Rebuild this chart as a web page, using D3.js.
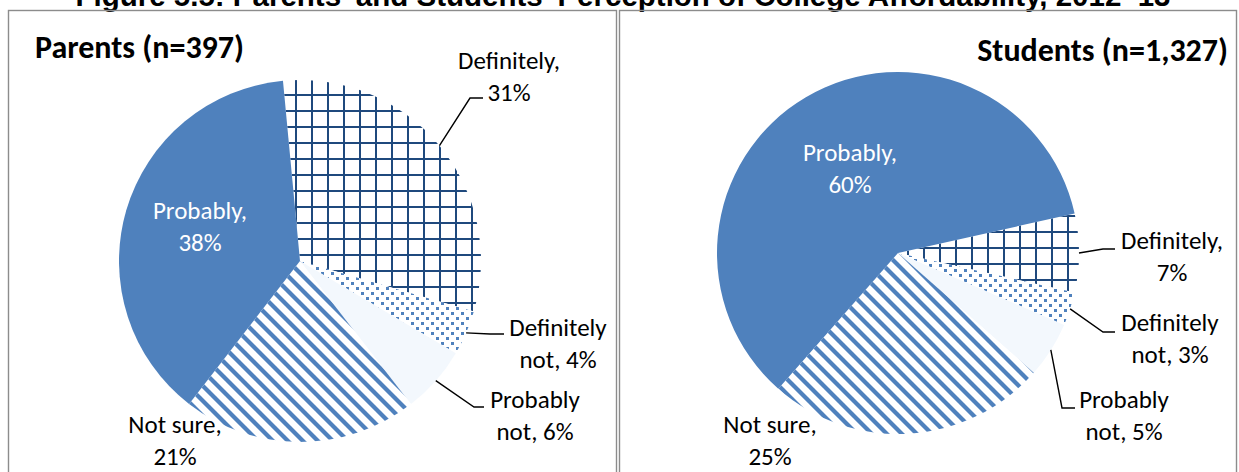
<!DOCTYPE html>
<html>
<head>
<meta charset="utf-8">
<script src="https://cdn.jsdelivr.net/npm/d3@7"></script>
<style>
  body { margin: 0; background: #fff; }
  svg { display: block; }
</style>
</head>
<body>
<svg id="chart" width="1239" height="472"></svg>
<script>
// ---- data ----
const categories = ["Definitely", "Definitely not", "Probably not", "Not sure", "Probably"];
const parentsValues = [31, 4, 6, 21, 38];
const studentsValues = [7, 3, 5, 25, 60];
const panelTitles = ["Parents (n=397)", "Students (n=1,327)"];
const figureTitle = "Figure 5.5: Parents\u2019 and Students\u2019 Perception of College Affordability, 2012\u201313";

// ---- styling ----
const BLUE = "#4F81BD";
const NAVY = "#1F497D";
const PALE = "#F3F8FD";
const labelFont = "Carlito, Calibri, Lato, sans-serif";

const svg = d3.select("#chart");
const defs = svg.append("defs");

// figure title (sits partly above the top edge)
svg.append("text")
  .attr("x", 623).attr("y", 6)
  .attr("text-anchor", "middle")
  .attr("font-family", "Liberation Sans, Arial, sans-serif")
  .attr("font-weight", "bold")
  .attr("font-size", 29.5)
  .attr("fill", "#000")
  .text(figureTitle);

// panel layout: pie centre, radius, start angle (deg) and label placement
const panels = [
  {
    id: "par", title: panelTitles[0], values: parentsValues,
    box: [8, 10, 608, 480], cx: 300, cy: 261, r: 181, start: -5.4,
    titleX: 35, titleY: 58, titleAnchor: "start",
    grid: [-5, 9],
    labels: [
      { tx: 209, ty: -192, leader: [[170, -163], [183, -163]] },
      { tx: 258, ty: 75, leader: [[190, 73], [204, 73]] },
      { tx: 235, ty: 147, leader: [[174, 146], [184, 146]] },
      { tx: -125, ty: 172 },
      { tx: -100, ty: -42, inside: true }
    ]
  },
  {
    id: "stu", title: panelTitles[1], values: studentsValues,
    box: [619, 10, 617, 480], cx: 898, cy: 253, r: 181, start: 77.4,
    titleX: 1228, titleY: 61, titleAnchor: "end",
    grid: [9, 10],
    labels: [
      { tx: 274, ty: -4, leader: [[205, -4], [217, -4]] },
      { tx: 272, ty: 78, leader: [[205, 79], [217, 79]] },
      { tx: 226, ty: 155, leader: [[164, 155], [177, 155]] },
      { tx: -128, ty: 180 },
      { tx: -48, ty: -92, inside: true }
    ]
  }
];

// greedy word wrap at roughly 11 characters per line
function wrap(str, max) {
  const words = str.split(" ");
  const lines = [];
  let cur = "";
  words.forEach(w => {
    const next = cur ? cur + " " + w : w;
    if (cur && next.length > max) { lines.push(cur); cur = w; }
    else cur = next;
  });
  if (cur) lines.push(cur);
  return lines;
}

function makePatterns(p) {
  // large grid
  const g = defs.append("pattern")
    .attr("id", "grid-" + p.id)
    .attr("patternUnits", "userSpaceOnUse")
    .attr("x", p.grid[0]).attr("y", p.grid[1])
    .attr("width", 16).attr("height", 16);
  g.append("rect").attr("width", 16).attr("height", 16).attr("fill", "#fff");
  g.append("rect").attr("x", 0).attr("y", 0).attr("width", 2).attr("height", 16).attr("fill", NAVY);
  g.append("rect").attr("x", 0).attr("y", 0).attr("width", 16).attr("height", 2).attr("fill", NAVY);

  // dotted
  const d = defs.append("pattern")
    .attr("id", "dots-" + p.id)
    .attr("patternUnits", "userSpaceOnUse")
    .attr("width", 10).attr("height", 10);
  d.append("rect").attr("width", 10).attr("height", 10).attr("fill", "#fff");
  d.append("rect").attr("x", 1).attr("y", 1).attr("width", 3).attr("height", 3).attr("fill", BLUE);
  d.append("rect").attr("x", 6).attr("y", 6).attr("width", 3).attr("height", 3).attr("fill", BLUE);

  // wide downward diagonal
  const s = defs.append("pattern")
    .attr("id", "diag-" + p.id)
    .attr("patternUnits", "userSpaceOnUse")
    .attr("width", 15).attr("height", 15);
  s.append("rect").attr("width", 15).attr("height", 15).attr("fill", "#fff");
  s.append("path").attr("d", "M0,0L6,0L15,9L15,15ZM0,9L6,15L0,15Z").attr("fill", BLUE);
}

panels.forEach(p => {
  makePatterns(p);

  // panel frame
  svg.append("rect")
    .attr("x", p.box[0] + 0.5).attr("y", p.box[1] + 0.5)
    .attr("width", p.box[2]).attr("height", p.box[3])
    .attr("fill", "none").attr("stroke", "#8c8c8c").attr("stroke-width", 1.4);

  // panel title
  svg.append("text")
    .attr("x", p.titleX).attr("y", p.titleY)
    .attr("text-anchor", p.titleAnchor)
    .attr("font-family", labelFont)
    .attr("font-weight", "bold")
    .attr("font-size", 32)
    .attr("fill", "#000")
    .text(p.title);

  const fills = [
    "url(#grid-" + p.id + ")",
    "url(#dots-" + p.id + ")",
    PALE,
    "url(#diag-" + p.id + ")",
    BLUE
  ];

  const a0 = p.start * Math.PI / 180;
  const pie = d3.pie().sort(null).value(d => d)
    .startAngle(a0).endAngle(a0 + 2 * Math.PI);
  const arcs = pie(p.values);
  const arc = d3.arc().innerRadius(0).outerRadius(p.r);

  const g = svg.append("g").attr("transform", `translate(${p.cx},${p.cy})`);

  g.selectAll("path.slice").data(arcs).join("path")
    .attr("class", "slice")
    .attr("d", arc)
    .attr("fill", (d, i) => fills[i]);

  // leader lines from the slice edge to the label
  arcs.forEach((d, i) => {
    const L = p.labels[i];
    if (!L.leader) return;
    const mid = (d.startAngle + d.endAngle) / 2;
    const start = [p.r * Math.sin(mid), -p.r * Math.cos(mid)];
    const pts = [start].concat(L.leader);
    g.append("path")
      .attr("d", d3.line()(pts))
      .attr("fill", "none")
      .attr("stroke", "#000")
      .attr("stroke-width", 1.4);
  });

  // data labels
  arcs.forEach((d, i) => {
    const L = p.labels[i];
    const str = categories[i] + ", " + p.values[i] + "%";
    const lines = wrap(str, 11);
    const t = g.append("text")
      .attr("text-anchor", "middle")
      .attr("font-family", labelFont)
      .attr("font-size", 25)
      .attr("fill", L.inside ? "#fff" : "#000");
    lines.forEach((ln, k) => {
      t.append("tspan").attr("x", L.tx).attr("y", L.ty + k * 31.5).text(ln);
    });
  });
});
</script>
</body>
</html>
